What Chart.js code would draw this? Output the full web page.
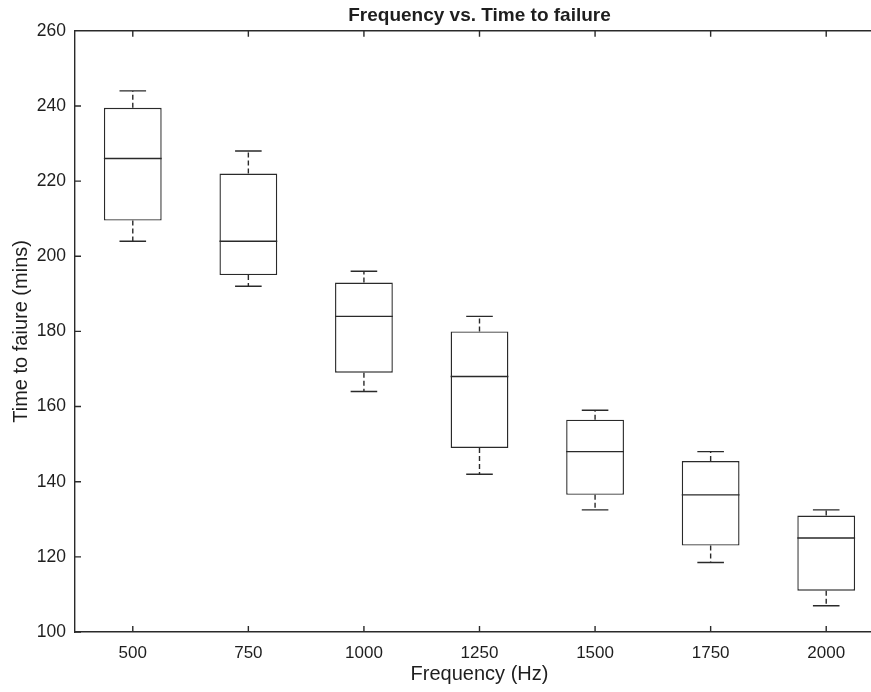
<!DOCTYPE html>
<html>
<head>
<meta charset="utf-8">
<script src="https://cdn.jsdelivr.net/npm/chart.js@4/dist/chart.umd.min.js"></script>
<style>
  html, body { margin: 0; padding: 0; background: #fff; overflow: hidden; }
  #wrap { width: 871px; height: 692px; overflow: hidden; }
</style>
</head>
<body>
<div id="wrap">
  <canvas id="myChart" width="900" height="692"></canvas>
</div>
<script>
// box plot values
const frequencies = ['500', '750', '1000', '1250', '1500', '1750', '2000'];
const whiskerHigh = [244, 228, 196, 184, 159, 148, 132.5];
const q3 = [239.5, 222, 193, 180, 156.5, 145.5, 131];
const median = [226, 204, 184, 168, 148, 136.5, 125];
const q1 = [209.5, 195, 169, 149, 136.5, 123, 111];
const whiskerLow = [204, 192, 164, 142, 132.5, 118.5, 107];
const yTicks = [100, 120, 140, 160, 180, 200, 220, 240, 260];

const lineColor = '#2a2a2a';
const textColor = '#1e1e1e';
const fontFamily = "'Liberation Sans', Arial, sans-serif";

// median, whiskers, caps and inward tick marks
const boxPlotExtras = {
  id: 'boxPlotExtras',
  afterDatasetsDraw(chart) {
    const ctx = chart.ctx;
    const y = chart.scales.y;
    const bars = chart.getDatasetMeta(0).data;
    ctx.save();
    ctx.strokeStyle = lineColor;
    ctx.lineWidth = 1.4;
    bars.forEach((bar, i) => {
      const half = bar.width / 2;
      const cap = bar.width * 0.23;
      const yMed = y.getPixelForValue(median[i]);
      const yHi = y.getPixelForValue(whiskerHigh[i]);
      const yLo = y.getPixelForValue(whiskerLow[i]);
      const yQ3 = y.getPixelForValue(q3[i]);
      const yQ1 = y.getPixelForValue(q1[i]);

      ctx.setLineDash([]);
      ctx.beginPath();
      ctx.moveTo(bar.x - half, yMed);
      ctx.lineTo(bar.x + half, yMed);
      ctx.moveTo(bar.x - cap, yHi);
      ctx.lineTo(bar.x + cap, yHi);
      ctx.moveTo(bar.x - cap, yLo);
      ctx.lineTo(bar.x + cap, yLo);
      ctx.stroke();

      ctx.setLineDash([5, 3]);
      ctx.beginPath();
      ctx.moveTo(bar.x, yQ3);
      ctx.lineTo(bar.x, yHi);
      ctx.moveTo(bar.x, yQ1);
      ctx.lineTo(bar.x, yLo);
      ctx.stroke();
    });
    ctx.restore();
  },
  afterDraw(chart) {
    const ctx = chart.ctx;
    const { left, right, top, bottom } = chart.chartArea;
    const x = chart.scales.x;
    const y = chart.scales.y;
    ctx.save();
    ctx.strokeStyle = lineColor;
    ctx.lineWidth = 1.4;
    ctx.beginPath();
    // top frame line
    ctx.moveTo(left, top);
    ctx.lineTo(right, top);
    frequencies.forEach((f, i) => {
      const px = x.getPixelForTick(i);
      ctx.moveTo(px, bottom);
      ctx.lineTo(px, bottom - 6);
      ctx.moveTo(px, top);
      ctx.lineTo(px, top + 6);
    });
    yTicks.forEach(v => {
      const py = y.getPixelForValue(v);
      ctx.moveTo(left, py);
      ctx.lineTo(left + 6, py);
    });
    ctx.stroke();
    ctx.restore();
  }
};

const ctx = document.getElementById('myChart');
new Chart(ctx, {
  type: 'bar',
  data: {
    labels: frequencies,
    datasets: [{
      label: 'Time to failure',
      data: q1.map((lo, i) => [lo, q3[i]]),
      backgroundColor: '#fff',
      borderColor: lineColor,
      borderWidth: 1.4,
      borderSkipped: false,
      categoryPercentage: 1,
      barPercentage: 0.5
    }]
  },
  options: {
    responsive: false,
    animation: false,
    layout: { padding: { right: 16 } },
    plugins: {
      legend: { display: false },
      tooltip: { enabled: false },
      title: {
        display: true,
        text: 'Frequency vs. Time to failure',
        color: textColor,
        fullSize: false,
        font: { family: fontFamily, size: 19, weight: 'bold' },
        padding: { top: 4, bottom: 4 }
      }
    },
    scales: {
      x: {
        grid: { display: false, drawTicks: false },
        border: { display: true, color: lineColor, width: 1.4 },
        ticks: { color: textColor, padding: 11, font: { family: fontFamily, size: 17 } },
        title: {
          display: true,
          text: 'Frequency (Hz)',
          color: textColor,
          font: { family: fontFamily, size: 20 },
          padding: { top: 0, bottom: 6 }
        },
        afterFit(scale) { scale.height = 60; }
      },
      y: {
        min: 100,
        max: 260,
        grid: { display: false, drawTicks: false },
        border: { display: true, color: lineColor, width: 1.4 },
        ticks: { stepSize: 20, color: textColor, padding: 9, font: { family: fontFamily, size: 17.5 } },
        title: {
          display: true,
          text: 'Time to faiure (mins)',
          color: textColor,
          font: { family: fontFamily, size: 20 },
          padding: { top: 9, bottom: 0 }
        },
        afterFit(scale) { scale.width = 75; }
      }
    }
  },
  plugins: [boxPlotExtras]
});
</script>
</body>
</html>
